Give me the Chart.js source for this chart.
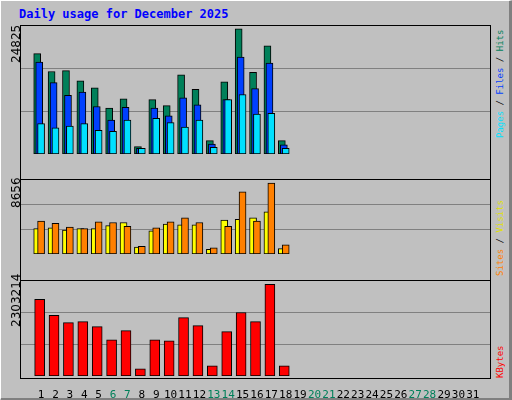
<!DOCTYPE html>
<html><head><meta charset="utf-8">
<script src="https://cdn.jsdelivr.net/npm/chart.js@4"></script>
<style>
body{margin:0;background:#c0c0c0;}
#frame{position:absolute;left:0;top:0;width:508px;height:397px;background:#c0c0c0;border-top:1px solid #fff;border-left:1px solid #fff;border-right:4px solid #808080;border-bottom:3px solid #808080;}
.box{position:absolute;border:1px solid #000;box-sizing:border-box;}
.wrap{position:absolute;}
.t{position:absolute;white-space:nowrap;font-family:"DejaVu Sans Mono",monospace;}
.lv{position:absolute;white-space:nowrap;font-family:"DejaVu Sans",sans-serif;font-size:12px;color:#000;transform-origin:0 0;transform:rotate(-90deg);}
.rv{position:absolute;white-space:nowrap;font-family:"DejaVu Sans Mono",monospace;font-size:9px;transform-origin:0 0;transform:rotate(-90deg);}
</style></head><body>
<div id="frame"></div>
<div class="t" style="left:19px;top:7px;font-size:12px;font-weight:bold;color:#0000ff;">Daily usage for December 2025</div>
<div class="box" style="left:20px;top:25px;width:471px;height:155px;"></div>
<div class="box" style="left:20px;top:179px;width:471px;height:102px;"></div>
<div class="box" style="left:20px;top:280px;width:471px;height:99px;"></div>
<div class="wrap" style="left:21px;top:26px;width:469px;height:152px;"><canvas id="c1" width="469" height="152" style="width:469px;height:152px;"></canvas></div>
<div class="wrap" style="left:21px;top:180px;width:469px;height:98px;"><canvas id="c2" width="469" height="98" style="width:469px;height:98px;"></canvas></div>
<div class="wrap" style="left:21px;top:281px;width:469px;height:117px;"><canvas id="c3" width="469" height="117" style="width:469px;height:117px;"></canvas></div>
<div class="lv" style="left:9px;top:63px;">24825</div>
<div class="lv" style="left:9px;top:208px;">8656</div>
<div class="lv" style="left:9px;top:327px;">2303214</div>
<div class="rv" style="left:495px;top:138px;"><span style="color:#00e0ff">Pages</span> / <span style="color:#0040ff">Files</span> / <span style="color:#00805a">Hits</span></div>
<div class="rv" style="left:495px;top:276px;"><span style="color:#ff8000">Sites</span> / <span style="color:#e0e000">Visits</span></div>
<div class="rv" style="left:495px;top:378px;"><span style="color:#ff0000">KBytes</span></div>
<script>
const days=[1,2,3,4,5,6,7,8,9,10,11,12,13,14,15,16,17,18,19,20,21,22,23,24,25,26,27,28,29,30,31];
const weekend=[6,7,13,14,20,21,27,28];
const hits=[19917,16362,16531,14500,13146,9084,10946,1467,10776,9591,15685,12807,2652,14331,24825,16193,21440,2652];
const files=[18224,14161,11622,12300,9422,6714,9253,1128,9084,7560,11115,9761,1975,10776,19239,12977,18054,1805];
const pages=[6037,5191,5529,6037,4683,4514,6714,1128,7053,6206,5360,6714,1298,10776,11792,7899,8068,1128];
const visits=[3094,3188,2906,3094,3094,3469,3844,844,2813,3656,3563,3563,563,4125,4219,4406,5156,656];
const sites=[4031,3750,3281,3094,3938,3844,3375,938,3188,3938,4406,3844,750,3375,7594,4031,8656,1125];
const kbytes=[1923600,1527100,1341500,1366800,1240200,911200,1139000,177200,911200,885900,1468000,1265600,253100,1113700,1594600,1366800,2303214,253100];

const pts=(arr,off)=>arr.map((v,i)=>({x:days[i]+off,y:v}));
const ds=(arr,off,color,w)=>({data:pts(arr,off),backgroundColor:color,borderColor:'#000',borderWidth:1,borderSkipped:false,barThickness:w,grouped:false});
function opts(max,showX){
  return {responsive:false,maintainAspectRatio:false,animation:false,events:[],devicePixelRatio:1,
    layout:{padding:{left:0,right:0,top:0,bottom:showX?0:2}},
    plugins:{legend:{display:false},tooltip:{enabled:false}},
    scales:{
      x:{type:'linear',min:0.13,max:31.67,display:showX,grid:{display:false},border:{display:false},
         afterBuildTicks:s=>{s.ticks=days.map(d=>({value:d}));},
         afterFit:s=>{s.height=22;},
         ticks:{autoSkip:false,maxRotation:0,padding:5,font:{family:'DejaVu Sans Mono',size:11},
           color:c=>weekend.includes(c.tick.value)?'#00805a':'#000',callback:v=>String(v)}},
      y:{min:0,max:max,border:{display:false},grid:{color:'#808080',drawTicks:false,lineWidth:1},
         ticks:{display:false},afterFit:s=>{s.width=0;},
         afterBuildTicks:s=>{s.ticks=[{value:max/3},{value:2*max/3}];}}
    }};
}
function mk(id,datasets,max,showX){
  new Chart(document.getElementById(id),{type:'bar',data:{datasets},options:opts(max,showX)});
}
mk('c1',[ds(pages,0,'#00e0ff',7),ds(files,-0.13,'#0040ff',7),ds(hits,-0.27,'#00805a',7)],25383,false);
mk('c2',[ds(sites,0,'#ff8000',7),ds(visits,-0.27,'#ffff00',7)],9032,false);
mk('c3',[ds(kbytes,-0.1,'#ff0000',10)],2387000,true);
</script>
</body></html>
